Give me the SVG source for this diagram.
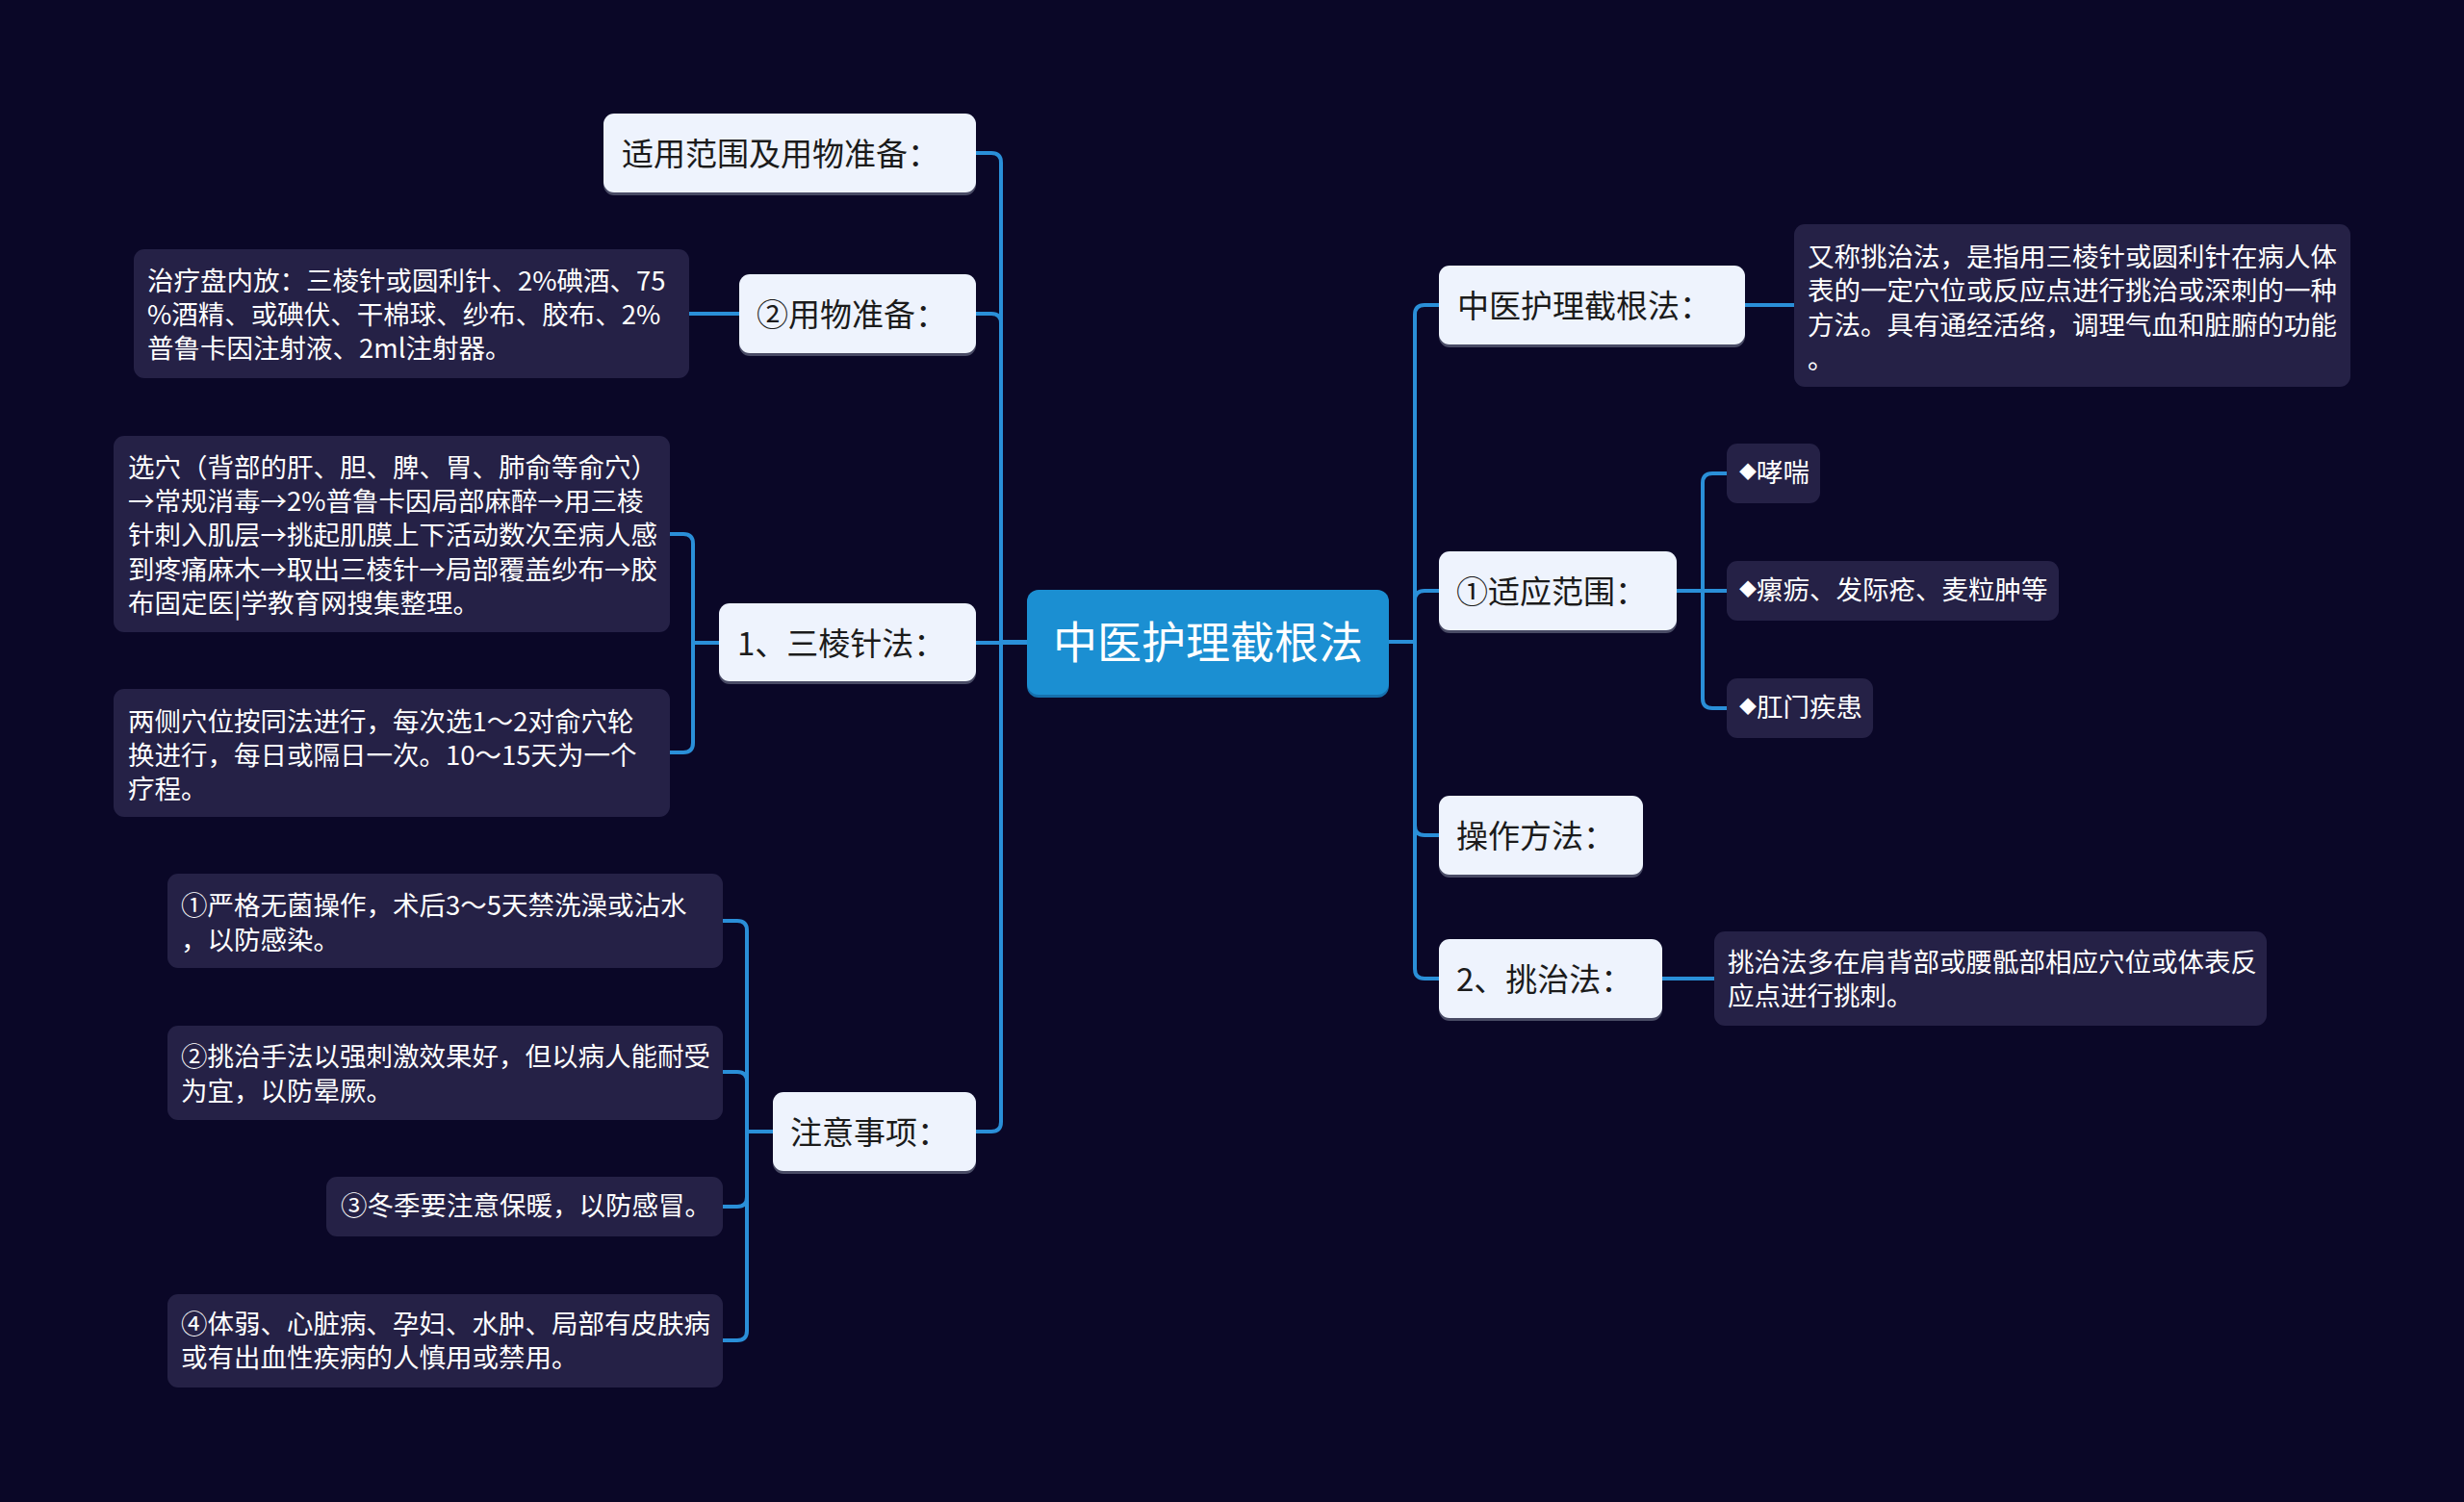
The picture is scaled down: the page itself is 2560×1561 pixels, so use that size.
<svg xmlns="http://www.w3.org/2000/svg" width="2560" height="1561" viewBox="0 0 2560 1561">
<defs>
<style>
.bg{fill:#0a0727}
.ln{fill:none;stroke:#2a8fd8;stroke-width:4;stroke-linecap:round;stroke-linejoin:round}
.lt{fill:#eef3fd}
.sh{fill:#7d8499;opacity:.55}
.dk{fill:#252146}
.ct{fill:#1b8fd2}
.cts{fill:#1670ad}
text{font-family:"Noto Sans CJK SC","Noto Sans",sans-serif;dominant-baseline:central}
.t1{font-size:33px;fill:#1b1b1b}
.t2{font-size:27.5px;fill:#ffffff}
.t0{font-size:46px;fill:#ffffff}
.dm{font-size:18px}
</style>
</defs>
<rect class="bg" x="0" y="0" width="2560" height="1561"/>

<g id="connectors">
<path class="ln" d="M1067,667 H1040 V169 Q1040,159 1030,159 H1014"/>
<path class="ln" d="M1040,667 V336 Q1040,326 1030,326 H1014"/>
<path class="ln" d="M1067,668 H1014"/>
<path class="ln" d="M1040,667 V1166 Q1040,1176 1030,1176 H1014"/>
<path class="ln" d="M768,326 H716"/>
<path class="ln" d="M747,668 H720 V565 Q720,555 710,555 H696"/>
<path class="ln" d="M720,668 V772 Q720,782 710,782 H696"/>
<path class="ln" d="M803,1176 H776 V967 Q776,957 766,957 H751"/>
<path class="ln" d="M776,1176 V1124 Q776,1114 766,1114 H751"/>
<path class="ln" d="M776,1176 V1244 Q776,1254 766,1254 H751"/>
<path class="ln" d="M776,1176 V1383 Q776,1393 766,1393 H751"/>
<path class="ln" d="M1443,667 H1470 V327 Q1470,317 1480,317 H1495"/>
<path class="ln" d="M1470,667 V624 Q1470,614 1480,614 H1495"/>
<path class="ln" d="M1470,667 V858 Q1470,868 1480,868 H1495"/>
<path class="ln" d="M1470,667 V1007 Q1470,1017 1480,1017 H1495"/>
<path class="ln" d="M1813,317 H1864"/>
<path class="ln" d="M1742,614 H1769 V502 Q1769,492 1779,492 H1794"/>
<path class="ln" d="M1742,614 H1794"/>
<path class="ln" d="M1769,614 V726 Q1769,736 1779,736 H1794"/>
<path class="ln" d="M1727,1017 H1781"/>
</g>

<g id="root">
<rect class="cts" x="1067" y="616" width="376" height="109" rx="12"/>
<rect class="ct" x="1067" y="613" width="376" height="109" rx="12"/>
<text class="t0" x="1255" y="664" text-anchor="middle">中医护理截根法</text>
</g>

<g id="n-shiyong">
<rect class="sh" x="627" y="121" width="387" height="82" rx="11"/>
<rect class="lt" x="627" y="118" width="387" height="82" rx="11"/>
<text class="t1" x="646" y="158">适用范围及用物准备：</text>
</g>
<g id="n-yongwu">
<rect class="sh" x="768" y="288" width="246" height="82" rx="11"/>
<rect class="lt" x="768" y="285" width="246" height="82" rx="11"/>
<text class="t1" x="786" y="325">②用物准备：</text>
</g>
<g id="n-yongwu-d">
<rect class="dk" x="139" y="259" width="577" height="134" rx="11"/>
<text class="t2" x="153" y="290">治疗盘内放：三棱针或圆利针、2%碘酒、75</text>
<text class="t2" x="153" y="325">%酒精、或碘伏、干棉球、纱布、胶布、2%</text>
<text class="t2" x="153" y="360">普鲁卡因注射液、2ml注射器。</text>
</g>
<g id="n-sanleng">
<rect class="sh" x="747" y="630" width="267" height="81" rx="11"/>
<rect class="lt" x="747" y="627" width="267" height="81" rx="11"/>
<text class="t1" x="766" y="667">1、三棱针法：</text>
</g>
<g id="n-sanleng-1">
<rect class="dk" x="118" y="453" width="578" height="204" rx="11"/>
<text class="t2" x="133" y="484">选穴（背部的肝、胆、脾、胃、肺俞等俞穴）</text>
<text class="t2" x="133" y="519">→常规消毒→2%普鲁卡因局部麻醉→用三棱</text>
<text class="t2" x="133" y="554">针刺入肌层→挑起肌膜上下活动数次至病人感</text>
<text class="t2" x="133" y="590">到疼痛麻木→取出三棱针→局部覆盖纱布→胶</text>
<text class="t2" x="133" y="625">布固定医|学教育网搜集整理。</text>
</g>
<g id="n-sanleng-2">
<rect class="dk" x="118" y="716" width="578" height="133" rx="11"/>
<text class="t2" x="133" y="748">两侧穴位按同法进行，每次选1～2对俞穴轮</text>
<text class="t2" x="133" y="783">换进行，每日或隔日一次。10～15天为一个</text>
<text class="t2" x="133" y="818">疗程。</text>
</g>
<g id="n-zhuyi">
<rect class="sh" x="803" y="1138" width="211" height="82" rx="11"/>
<rect class="lt" x="803" y="1135" width="211" height="82" rx="11"/>
<text class="t1" x="821" y="1175">注意事项：</text>
</g>
<g id="n-zhuyi-1">
<rect class="dk" x="174" y="908" width="577" height="98" rx="11"/>
<text class="t2" x="188" y="939">①严格无菌操作，术后3～5天禁洗澡或沾水</text>
<text class="t2" x="188" y="975">，以防感染。</text>
</g>
<g id="n-zhuyi-2">
<rect class="dk" x="174" y="1066" width="577" height="98" rx="11"/>
<text class="t2" x="188" y="1096">②挑治手法以强刺激效果好，但以病人能耐受</text>
<text class="t2" x="188" y="1132">为宜，以防晕厥。</text>
</g>
<g id="n-zhuyi-3">
<rect class="dk" x="339" y="1223" width="412" height="62" rx="11"/>
<text class="t2" x="354" y="1251">③冬季要注意保暖，以防感冒。</text>
</g>
<g id="n-zhuyi-4">
<rect class="dk" x="174" y="1345" width="577" height="97" rx="11"/>
<text class="t2" x="188" y="1374">④体弱、心脏病、孕妇、水肿、局部有皮肤病</text>
<text class="t2" x="188" y="1409">或有出血性疾病的人慎用或禁用。</text>
</g>

<g id="n-jiegen">
<rect class="sh" x="1495" y="279" width="318" height="82" rx="11"/>
<rect class="lt" x="1495" y="276" width="318" height="82" rx="11"/>
<text class="t1" x="1514" y="316">中医护理截根法：</text>
</g>
<g id="n-jiegen-d">
<rect class="dk" x="1864" y="233" width="578" height="169" rx="11"/>
<text class="t2" x="1878" y="265">又称挑治法，是指用三棱针或圆利针在病人体</text>
<text class="t2" x="1878" y="300">表的一定穴位或反应点进行挑治或深刺的一种</text>
<text class="t2" x="1878" y="336">方法。具有通经活络，调理气血和脏腑的功能</text>
<text class="t2" x="1878" y="371">。</text>
</g>
<g id="n-shiying">
<rect class="sh" x="1495" y="576" width="247" height="82" rx="11"/>
<rect class="lt" x="1495" y="573" width="247" height="82" rx="11"/>
<text class="t1" x="1513" y="613">①适应范围：</text>
</g>
<g id="n-xiaochuan">
<rect class="dk" x="1794" y="461" width="97" height="62" rx="11"/>
<text class="t2" x="1807" y="489"><tspan class="dm">◆</tspan>哮喘</text>
</g>
<g id="n-luoli">
<rect class="dk" x="1794" y="583" width="345" height="62" rx="11"/>
<text class="t2" x="1807" y="611"><tspan class="dm">◆</tspan>瘰疬、发际疮、麦粒肿等</text>
</g>
<g id="n-gangmen">
<rect class="dk" x="1794" y="705" width="152" height="62" rx="11"/>
<text class="t2" x="1807" y="733"><tspan class="dm">◆</tspan>肛门疾患</text>
</g>
<g id="n-caozuo">
<rect class="sh" x="1495" y="830" width="212" height="82" rx="11"/>
<rect class="lt" x="1495" y="827" width="212" height="82" rx="11"/>
<text class="t1" x="1513" y="867">操作方法：</text>
</g>
<g id="n-tiaozhi">
<rect class="sh" x="1495" y="979" width="232" height="82" rx="11"/>
<rect class="lt" x="1495" y="976" width="232" height="82" rx="11"/>
<text class="t1" x="1513" y="1016">2、挑治法：</text>
</g>
<g id="n-tiaozhi-d">
<rect class="dk" x="1781" y="968" width="574" height="98" rx="11"/>
<text class="t2" x="1795" y="998">挑治法多在肩背部或腰骶部相应穴位或体表反</text>
<text class="t2" x="1795" y="1033">应点进行挑刺。</text>
</g>
</svg>
